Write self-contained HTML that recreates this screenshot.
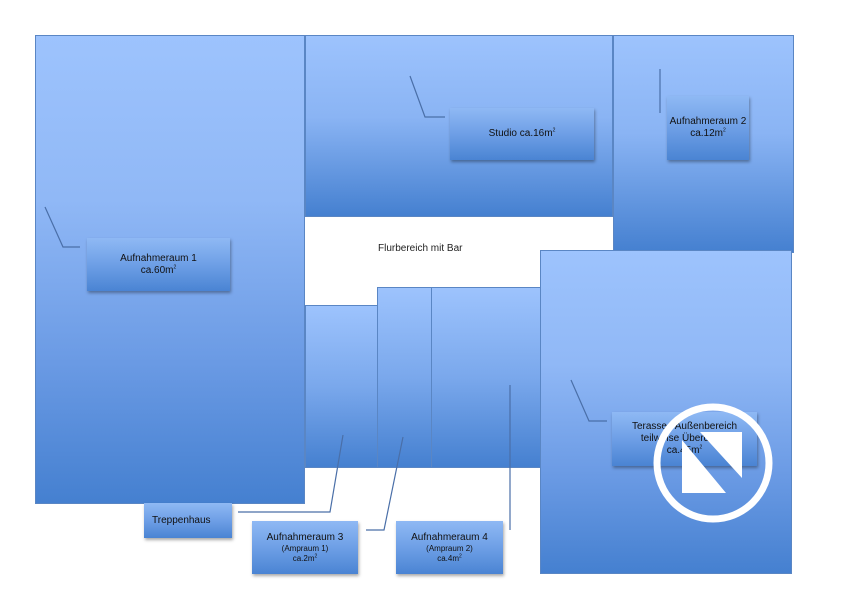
<!DOCTYPE html>
<html><head><style>
body{margin:0;width:844px;height:596px;background:#fff;position:relative;overflow:hidden;font-family:"Liberation Sans",sans-serif}
.r{position:absolute;background:linear-gradient(#9dc3fd,#90b8f6 35%,#6a9ae4 70%,#4580d0);border:1px solid #5a86c4;box-sizing:border-box}
.l{position:absolute;background:linear-gradient(#8fb9f4,#6e9fe6 50%,#4a84d3);box-shadow:1px 2px 3px rgba(0,0,0,.35);box-sizing:border-box;text-align:center;font-size:10px;color:#111;line-height:12px;display:flex;flex-direction:column;justify-content:center}
.l div{display:block}
.s{font-size:8px;line-height:10px}
sup{font-size:5px;line-height:0}
</style></head><body>
<div class="r" style="left:35px;top:35px;width:270px;height:469px"></div>
<div class="r" style="left:305px;top:35px;width:308px;height:182px;background:linear-gradient(#9dc3fd,#8ab4f4 45%,#4580d0)"></div>
<div class="r" style="left:613px;top:35px;width:181px;height:218px;background:linear-gradient(#9dc3fd,#8ab4f4 45%,#4580d0)"></div>
<div class="r" style="left:305px;top:305px;width:73px;height:163px;background:linear-gradient(#9dc3fd,#7aa8ec 50%,#4580d0)"></div>
<div class="r" style="left:377px;top:287px;width:55px;height:181px;background:linear-gradient(#9dc3fd,#7aa8ec 50%,#4580d0)"></div>
<div class="r" style="left:431px;top:287px;width:110px;height:181px;background:linear-gradient(#9dc3fd,#7aa8ec 50%,#4580d0)"></div>
<div class="r" style="left:540px;top:250px;width:252px;height:324px"></div>
<div style="position:absolute;left:378px;top:243px;font-size:10px;color:#222">Flurbereich mit Bar</div>
<svg width="844" height="596" style="position:absolute;left:0;top:0" fill="none" stroke="#4a6fa8" stroke-width="1.2">
<polyline points="45,207 63,247 80,247"/>
<polyline points="410,76 425,117 445,117"/>
<polyline points="660,69 660,113"/>
<polyline points="571,380 589,421 607,421"/>
<polyline points="343,435 330,512 238,512"/>
<polyline points="403,437 384,530 366,530"/>
<polyline points="510,385 510,530"/>
</svg>
<div class="l" style="left:87px;top:238px;width:143px;height:53px"><div>Aufnahmeraum 1</div><div>ca.60m<sup>2</sup></div></div>
<div class="l" style="left:450px;top:108px;width:144px;height:52px"><div>Studio ca.16m<sup>2</sup></div></div>
<div class="l" style="left:667px;top:96px;width:82px;height:64px"><div>Aufnahmeraum 2</div><div>ca.12m<sup>2</sup></div></div>
<div class="l" style="left:612px;top:412px;width:145px;height:54px"><div>Terasse / Außenbereich</div><div>teilweise Überdacht</div><div>ca.45m<sup>2</sup></div></div>
<div class="l" style="left:144px;top:503px;width:88px;height:35px;text-align:left;padding-left:8px"><div>Treppenhaus</div></div>
<div class="l" style="left:252px;top:521px;width:106px;height:53px"><div>Aufnahmeraum 3</div><div class="s">(Ampraum 1)</div><div class="s">ca.2m<sup>2</sup></div></div>
<div class="l" style="left:396px;top:521px;width:107px;height:53px"><div>Aufnahmeraum 4</div><div class="s">(Ampraum 2)</div><div class="s">ca.4m<sup>2</sup></div></div>
<svg width="844" height="596" style="position:absolute;left:0;top:0">
<circle cx="713" cy="463" r="56" fill="none" stroke="#fff" stroke-width="7"/>
<polygon points="682,440 682,493 726,493" fill="#fff"/>
<polygon points="700,432 742,432 742,478" fill="#fff"/>
</svg>
</body></html>
